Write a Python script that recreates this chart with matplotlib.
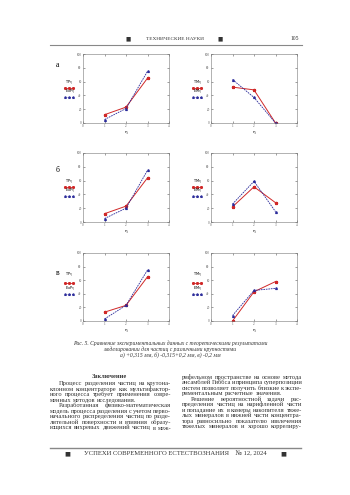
import matplotlib
matplotlib.use("Agg")
import matplotlib.pyplot as plt

# ---- data ----
eta = [1, 2, 3]

# left column: TP (theory) vs ExP (experiment)
tp_a = [12, 23, 65]
exp_a = [5, 21, 75]
tp_b = [12, 23, 64]
exp_b = [5, 20, 75]
tp_v = [13, 23, 65]
exp_v = [3, 23, 75]

# right column: TM (theory) vs EM (experiment)
tm_a = [52, 48, 0]
em_a = [63, 37, 0]
tm_b = [22, 51, 28]
em_b = [26, 59, 15]
tm_v = [0, 43, 58]
em_v = [8, 45, 48]

panel_letters = ["а", "б", "в"]
left_names = ["TP$_\\eta$", "ExP$_\\eta$"]
right_names = ["TM$_\\eta$", "EM$_\\eta$"]
xticks = [0, 1, 2, 3, 4]
yticks = [0, 20, 40, 60, 80, 100]

header = "ТЕХНИЧЕСКИЕ НАУКИ"
page_no = "105"
footer = "УСПЕХИ СОВРЕМЕННОГО ЕСТЕСТВОЗНАНИЯ    № 12, 2024"
caption = [
    "Рис. 5. Сравнение экспериментальных данных с теоретическими результатами",
    "моделировании для частиц с различными крупностями",
    "а) +0,315 мм, б) -0,315+0,2 мм, в) -0,2 мм",
]
# (text, indented, justified)
left_col = [
    ("Процесс разделения частиц на крутона-", True, True),
    ("клонном концентраторе как мультифактор-", False, True),
    ("ного процесса требует применения совре-", False, True),
    ("менных методов исследования.", False, False),
    ("Разработанная физико-математическая", True, True),
    ("модель процесса разделения с учетом перво-", False, True),
    ("начального распределения частиц по разде-", False, True),
    ("лительной поверхности и влияния образу-", False, True),
    ("ющихся вихревых движений частиц в меж-", False, True),
]
right_col = [
    ("рифельном пространстве на основе метода", False, True),
    ("ансамблей Гиббса и принципа суперпозиции", False, True),
    ("систем позволяет получить близкие к экспе-", False, True),
    ("риментальным расчетные значения.", False, False),
    ("Решение вероятностной задачи рас-", True, True),
    ("пределения частиц на нарифленной части", False, True),
    ("и попадание их в камеры накопителя тяже-", False, True),
    ("лых минералов в нижней части концентра-", False, True),
    ("тора равносильно показателю извлечения", False, True),
    ("тяжелых минералов и хорошо коррелиру-", False, True),
]

RED = "#d02828"
BLUE = "#2a2a9a"
TXT = "#333333"
W, H = 350, 495

plt.rcParams["font.family"] = ["Liberation Serif", "DejaVu Serif"]
fig = plt.figure(figsize=(3.5, 4.95), dpi=100)
fig.patch.set_facecolor("white")
renderer = fig.canvas.get_renderer()


def px_rect(x0, y0, x1, y1):
    return [x0 / W, 1 - y1 / H, (x1 - x0) / W, (y1 - y0) / H]


def fx(x):
    return x / W


def fy(y):
    return 1 - y / H


def panel(rect, theory, exper, names, letter, leg_y):
    ax = fig.add_axes(px_rect(*rect))
    ax.plot(eta, theory, color=RED, lw=0.7, marker="*", ms=2.2)
    ax.plot(eta, exper, color=BLUE, lw=0.6, ls=(0, (2, 1)), marker="^", ms=1.3)
    ax.set_xlim(0, 4)
    ax.set_ylim(0, 100)
    ax.set_xticks(xticks)
    ax.set_yticks(yticks)
    ax.tick_params(direction="in", length=1.5, width=0.4, labelsize=2.3,
                   pad=1, top=True, right=True, colors="#555555")
    for s in ax.spines.values():
        s.set_linewidth(0.4)
        s.set_color("#777777")
    ax.set_xlabel("η", fontsize=3, labelpad=1, family="DejaVu Sans")
    # legend drawn outside on the left, label above its line sample
    t = ax.transAxes
    ax.text(-0.205, leg_y[0], names[0], transform=t, fontsize=2.6,
            va="center", ha="left", family="DejaVu Sans")
    ax.plot([-0.215, -0.165, -0.115], [leg_y[1]] * 3, transform=t,
            clip_on=False, color=RED, lw=0.6, marker="*", ms=1.8)
    ax.text(-0.205, leg_y[2], names[1], transform=t, fontsize=2.6,
            va="center", ha="left", family="DejaVu Sans")
    ax.plot([-0.215, -0.165, -0.115], [leg_y[3]] * 3, transform=t,
            clip_on=False, color=BLUE, lw=0.6, ls=":", marker="^", ms=1.2)
    if letter:
        ax.text(-0.30, letter[1], letter[0], transform=t, fontsize=5.5,
                va="center", ha="center")
    return ax


def text_line(x0, x1, y, line, indent, justify, size):
    # place words one by one so the line fills the column like the print
    words = line.split()
    start = x0 + (9 if indent else 0)
    base = fy(y + 1.6)
    arts = [fig.text(fx(start), base, w, fontsize=size, ha="left",
                     va="baseline", color=TXT) for w in words]
    widths = [a.get_window_extent(renderer).width for a in arts]
    space = size * 0.25 * 100 / 72
    if justify and len(words) > 1:
        gap = max((x1 - start - sum(widths)) / (len(words) - 1), 0.6)
    else:
        gap = space
    x = start
    for a, w in zip(arts, widths):
        a.set_x(fx(x))
        x += w + gap


rows = [(54, 123), (153, 222), (253, 321)]
left_data = [(tp_a, exp_a), (tp_b, exp_b), (tp_v, exp_v)]
right_data = [(tm_a, em_a), (tm_b, em_b), (tm_v, em_v)]
letter_y = [0.84, 0.75, 0.71]
legend_y = [(0.58, 0.51, 0.45, 0.38),
            (0.58, 0.51, 0.45, 0.38),
            (0.68, 0.56, 0.47, 0.39)]

for i, (y0, y1) in enumerate(rows):
    panel((83, y0, 169, y1), left_data[i][0], left_data[i][1], left_names,
          (panel_letters[i], letter_y[i]), legend_y[i])
    panel((211, y0, 297, y1), right_data[i][0], right_data[i][1], right_names,
          None, legend_y[i])

# ---- running header ----
fig.text(fx(128), fy(39), "■", fontsize=4, ha="center", va="center", color=TXT,
         family="DejaVu Sans")
fig.text(fx(175), fy(39), header, fontsize=3.8, ha="center", va="center", color=TXT)
fig.text(fx(220), fy(39), "■", fontsize=4, ha="center", va="center", color=TXT,
         family="DejaVu Sans")
fig.text(fx(295), fy(39), page_no, fontsize=4, ha="center", va="center", color=TXT)
fig.add_artist(plt.Line2D([fx(50), fx(302)], [fy(45), fy(45)], lw=0.8,
                          color="#888888", transform=fig.transFigure))

# ---- caption ----
for k, line in enumerate(caption):
    fig.text(fx(170), fy(343 + 6 * k), line, fontsize=4.1, style="italic",
             ha="center", va="center", color=TXT)

# ---- body text ----
fig.text(fx(109), fy(377), "Заключение", fontsize=4.6, weight="bold",
         ha="center", va="center", color=TXT)
for k, (line, ind, just) in enumerate(left_col):
    text_line(50, 171, 383.5 + 5.55 * k, line, ind, just, 4.7)
for k, (line, ind, just) in enumerate(right_col):
    text_line(182, 302, 377 + 5.5 * k, line, ind, just, 4.7)

# ---- footer ----
fig.add_artist(plt.Line2D([fx(50), fx(301)], [fy(448), fy(448)], lw=1.0,
                          color="#888888", transform=fig.transFigure))
fig.text(fx(67), fy(454), "■", fontsize=4.5, ha="center", va="center", color=TXT,
         family="DejaVu Sans")
fig.text(fx(175), fy(454), footer, fontsize=4.8, ha="center", va="center", color=TXT)
fig.text(fx(283), fy(454), "■", fontsize=4.5, ha="center", va="center", color=TXT,
         family="DejaVu Sans")

fig.savefig("out.png", dpi=100)
